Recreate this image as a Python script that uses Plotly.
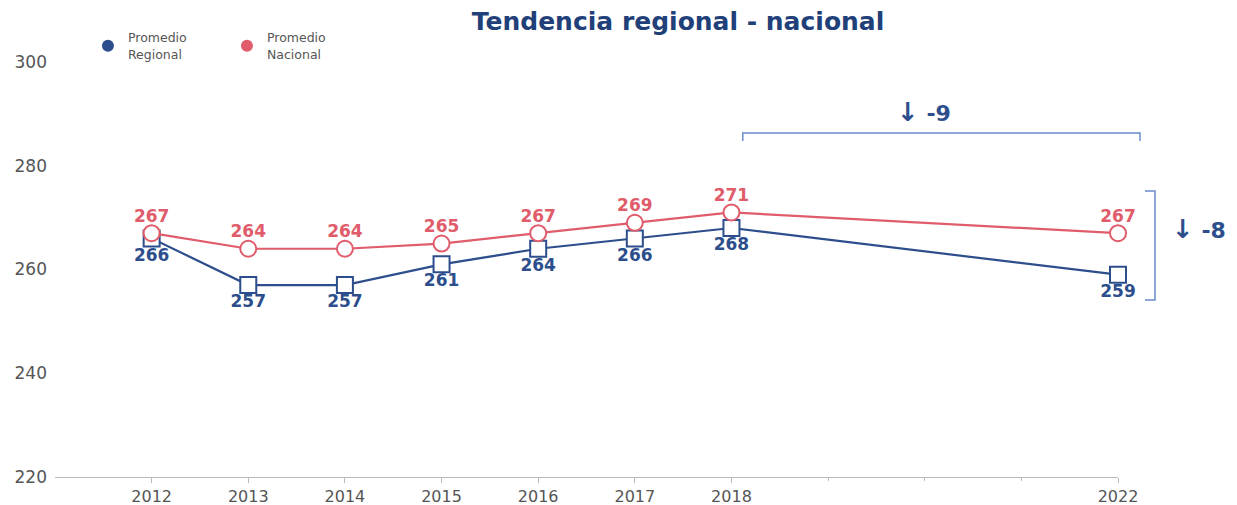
import plotly.graph_objects as go

years = [2012, 2013, 2014, 2015, 2016, 2017, 2018, 2022]
regional = [266, 257, 257, 261, 264, 266, 268, 259]
nacional = [267, 264, 264, 265, 267, 269, 271, 267]
tick_years = [2012, 2013, 2014, 2015, 2016, 2017, 2018, 2022]
minor_years = [2019, 2020, 2021]
y_ticks = [220, 240, 260, 280, 300]

BLUE = "#2D4E8C"
RED = "#E05C6B"
TITLE = "#1F4079"
BRACKET = "#6A8BCB"
GRAY = "#555555"

fig = go.Figure()

fig.add_trace(go.Scatter(
    x=years, y=regional, mode="lines+markers",
    line=dict(color=BLUE, width=2.2),
    marker=dict(symbol="square", size=16, color="white", line=dict(color=BLUE, width=2)),
    cliponaxis=False, showlegend=False, hoverinfo="skip"))

fig.add_trace(go.Scatter(
    x=years, y=nacional, mode="lines+markers",
    line=dict(color=RED, width=2.2),
    marker=dict(symbol="circle", size=16, color="white", line=dict(color=RED, width=2)),
    cliponaxis=False, showlegend=False, hoverinfo="skip"))

# value labels (invisible markers control the text offset)
fig.add_trace(go.Scatter(
    x=years, y=regional, mode="markers+text",
    marker=dict(size=13.5, color="rgba(0,0,0,0)", line=dict(width=0)),
    text=[str(v) for v in regional], textposition="bottom center",
    textfont=dict(family="DejaVu Sans", size=17, color=BLUE, weight="bold"),
    cliponaxis=False, showlegend=False, hoverinfo="skip"))
fig.add_trace(go.Scatter(
    x=years, y=nacional, mode="markers+text",
    marker=dict(size=10, color="rgba(0,0,0,0)", line=dict(width=0)),
    text=[str(v) for v in nacional], textposition="top center",
    textfont=dict(family="DejaVu Sans", size=17, color=RED, weight="bold"),
    cliponaxis=False, showlegend=False, hoverinfo="skip"))

# legend-only entries
fig.add_trace(go.Scatter(x=[None], y=[None], mode="markers", name="Promedio<br>Regional",
                         marker=dict(symbol="circle", size=12, color=BLUE)))
fig.add_trace(go.Scatter(x=[None], y=[None], mode="markers", name="Promedio<br>Nacional",
                         marker=dict(symbol="circle", size=12, color=RED)))

# brackets (paper coordinates)
lw = 1.5
fig.add_shape(type="path", xref="paper", yref="paper",
              path="M 0.647 0.8096 L 0.647 0.8289 L 1.0207 0.8289 L 1.0207 0.8096",
              line=dict(color=BRACKET, width=lw))
fig.add_shape(type="path", xref="paper", yref="paper",
              path="M 1.0254 0.6892 L 1.0348 0.6892 L 1.0348 0.4265 L 1.0254 0.4265",
              line=dict(color=BRACKET, width=lw))

arrow = "<span style='font-size:26px'>↓</span> -{}"
fig.add_annotation(x=0.790, y=0.8795, xref="paper", yref="paper", xanchor="left", yanchor="middle",
                   text="<b>" + arrow.format(9) + "</b>",
                   showarrow=False, font=dict(family="DejaVu Sans", size=22, color=BLUE))
fig.add_annotation(x=1.0489, y=0.5976, xref="paper", yref="paper", xanchor="left", yanchor="middle",
                   text="<b>" + arrow.format(8) + "</b>",
                   showarrow=False, font=dict(family="DejaVu Sans", size=22, color=BLUE))

fig.update_layout(
    width=1229, height=497,
    margin=dict(l=47, r=119, t=54, b=28),
    paper_bgcolor="white", plot_bgcolor="white",
    title=dict(text="<b>Tendencia regional - nacional</b>", x=0.5452, xanchor="center",
               y=0.9738, yanchor="middle",
               font=dict(family="DejaVu Sans", size=25, color=TITLE)),
    legend=dict(orientation="h", x=0.031, y=1.094, xanchor="left", yanchor="top",
                font=dict(family="DejaVu Sans", size=12.5, color=GRAY),
                entrywidth=94, entrywidthmode="pixels", bgcolor="rgba(0,0,0,0)"),
    xaxis=dict(range=[2011, 2022], tickvals=tick_years, ticktext=[str(t) for t in tick_years],
               showgrid=False, zeroline=False, showline=True, linecolor="#BBBBBB", linewidth=1,
               ticks="outside", ticklen=5, tickcolor="#BBBBBB", automargin=False,
               minor=dict(tickvals=minor_years, ticks="outside", ticklen=3, tickcolor="#BBBBBB"),
               tickfont=dict(family="DejaVu Sans", size=16, color=GRAY)),
    yaxis=dict(range=[220, 300], tickvals=y_ticks, showgrid=False, zeroline=False,
               showline=False, ticks="", automargin=False, ticklabelstandoff=7,
               tickfont=dict(family="DejaVu Sans", size=17, color=GRAY)),
)

fig.write_html("out.html")
